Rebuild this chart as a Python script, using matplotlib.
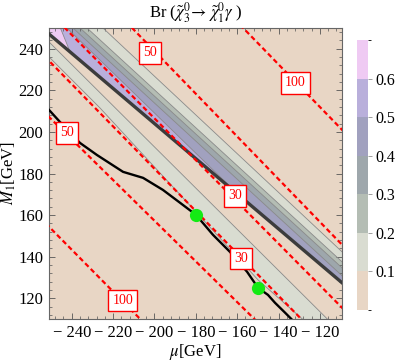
import numpy as np
import matplotlib
matplotlib.use("Agg")
import matplotlib.pyplot as plt
from matplotlib.colors import ListedColormap, BoundaryNorm
from matplotlib.ticker import MultipleLocator, FuncFormatter
import matplotlib.colorbar as mcolorbar

plt.rcParams['font.family'] = ['Liberation Serif', 'DejaVu Serif']
plt.rcParams['mathtext.fontset'] = 'stix'

# Br levels / colours of the filled contours (bottom -> top of colour bar)
br_levels = [0.0, 0.1, 0.2, 0.3, 0.4, 0.5, 0.6, 0.7]
br_colors = ['#e8d6c5', '#d9dcd1', '#b4bdb4', '#9ea7ac', '#a1a1bf', '#b9afdb', '#efcaf3']

# sharp lower-left edge of the main band (Br jumps here)
edge_x = [-251.0, -109.25]
edge_y = [247.1, 127.4]

# upper contours of the main band, level -> (x, y); 0.5 and 0.6 end on the edge
main_levels = [0.1, 0.2, 0.3, 0.4, 0.5, 0.6]
main_x = [[-224.9, -109.25], [-232.6, -109.25], [-236.0, -109.25],
          [-239.4, -109.25], [-242.3, -158.6], [-245.5, -240.8]]
main_y = [[250.0, 142.3], [250.0, 137.5], [250.0, 134.6],
          [250.0, 130.8], [250.0, 169.1], [250.0, 238.5]]

# narrow 0.1-0.2 band lower-left of the main band
bandA_up_x = [-251.0, -116.0]
bandA_up_y = [243.3, 109.6]
bandA_lo_x = [-251.0, -226.3, -179.9, -149.9, -128.6]
bandA_lo_y = [236.1, 211.5, 161.5, 128.8, 110.1]

# red dashed contours (label value, end points)
red_vals = [100, 50, 30, 30, 50, 100]
red_x = [[-157.1, -109.25], [-210.8, -109.25], [-243.3, -109.25],
         [-250.5, -129.6], [-251.0, -152.3], [-249.5, -207.0]]
red_y = [[250.0, 201.0], [250.0, 145.7], [250.0, 115.4],
         [233.7, 110.6], [207.2, 110.6], [152.9, 110.1]]
lab_x = [-132.0, -202.1, -161.0, -158.1, -242.3, -215.4]
lab_y = [223.6, 238.0, 169.2, 139.0, 199.5, 119.0]

# black curve and the two benchmark points
curve_x = [-251.0, -245.7, -236.0, -227.8, -215.2, -205.5, -195.9, -187.6, -179.9,
           -171.7, -163.5, -155.2, -149.9, -145.1, -141.7, -136.8, -133.9]
curve_y = [210.6, 204.8, 194.7, 188.9, 180.8, 177.9, 172.1, 165.9, 160.1,
           150.5, 142.3, 132.7, 125.0, 121.6, 117.8, 113.0, 110.1]
pts_x = [-180.0, -150.0]
pts_y = [160.0, 125.0]

XMIN, XMAX, YMIN, YMAX = -251.0, -109.3, 110.0, 250.0


def extend(xs, ys, x0=-275.0, x1=-85.0, start=True, end=True):
    xs, ys = list(xs), list(ys)
    if start:
        s = (ys[1] - ys[0]) / (xs[1] - xs[0])
        xs.insert(0, x0); ys.insert(0, ys[0] + s * (x0 - xs[1]))
    if end:
        s = (ys[-1] - ys[-2]) / (xs[-1] - xs[-2])
        xs.append(x1); ys.append(ys[-1] + s * (x1 - xs[-2]))
    return np.array(xs), np.array(ys)


fig = plt.figure(figsize=(3.99, 3.63), dpi=100)
ax = fig.add_axes([49 / 399, 1 - 319 / 363, 293 / 399, 291 / 363])
ax.set_xlim(XMIN, XMAX)
ax.set_ylim(YMIN, YMAX)
ax.set_facecolor(br_colors[0])

ex, ey = extend(edge_x, edge_y)

# main band, layered from the widest (0.1) to the narrowest level
for i, lev in enumerate(main_levels):
    merges = lev >= 0.5
    ux, uy = extend(main_x[i], main_y[i], end=not merges)
    if merges:
        jy = np.interp(ux[0], ex, ey)
        px = np.concatenate([ux, [ux[0]]])
        py = np.concatenate([uy, [jy]])
    else:
        px = np.concatenate([ux, ex[::-1]])
        py = np.concatenate([uy, ey[::-1]])
    ax.fill(px, py, color=br_colors[i + 1], lw=0, zorder=1)
    ax.plot(ux, uy, color='#8a8a8a', lw=0.6, zorder=2)

# band A
ax_, ay_ = extend(bandA_up_x, bandA_up_y)
bx_, by_ = extend(bandA_lo_x, bandA_lo_y)
ax.fill(np.concatenate([ax_, bx_[::-1]]), np.concatenate([ay_, by_[::-1]]),
        color=br_colors[1], lw=0, zorder=1)
ax.plot(ax_, ay_, color='#8a8a8a', lw=0.6, zorder=2)
ax.plot(bx_, by_, color='#8a8a8a', lw=0.6, zorder=2)

# jagged edge
ax.plot(ex, ey, color='#3c3c3c', lw=2.4, zorder=3)

# red dashed mass-difference contours
for i in range(len(red_vals)):
    x0, x1 = red_x[i]
    y0, y1 = red_y[i]
    t = np.array([-0.2, 1.2])
    ax.plot(x0 + t * (x1 - x0), y0 + t * (y1 - y0), color='#ff0000', lw=1.6,
            linestyle=(0, (2.2, 1.4)), zorder=4)
    ax.text(lab_x[i], lab_y[i], str(red_vals[i]), color='#ff0000', fontsize=10,
            ha='center', va='center', zorder=7,
            bbox=dict(boxstyle='square,pad=0.3', fc='white', ec='#ff0000', lw=1.0))

ax.plot(curve_x, curve_y, color='black', lw=1.7, zorder=5)
ax.plot(pts_x, pts_y, 'o', color='#14ea14', ms=9.5, mec='none', zorder=6)

# axes styling (Mathematica-like frame)
ax.xaxis.set_major_locator(MultipleLocator(20))
ax.xaxis.set_minor_locator(MultipleLocator(4))
ax.yaxis.set_major_locator(MultipleLocator(20))
ax.yaxis.set_minor_locator(MultipleLocator(4))
ax.xaxis.set_major_formatter(FuncFormatter(lambda v, p: f"\u2212 {abs(int(v))}" if v < 0 else f"{int(v)}"))
ax.tick_params(which='both', direction='in', top=True, right=True, colors='#555555',
               labelcolor='black', labelsize=12)
ax.tick_params(which='major', length=4, width=0.6, pad=4)
ax.tick_params(which='minor', length=2, width=0.5)
for s in ax.spines.values():
    s.set_color('#666666')
    s.set_linewidth(0.8)
ax.set_xlabel(r'$\mu$[GeV]', fontsize=12, labelpad=1)
ax.set_ylabel(r'$M_1$[GeV]', fontsize=12, labelpad=0)
fig.text(196 / 399, 1 - 13 / 363, r'Br ($\tilde{\chi}_3^0\!\rightarrow\,\tilde{\chi}_1^0\gamma$ )',
         ha='center', va='center', fontsize=12)

# colour bar
cax = fig.add_axes([357 / 399, 1 - 310 / 363, 11 / 399, 270 / 363])
cmap = ListedColormap(br_colors)
norm = BoundaryNorm(br_levels, cmap.N)
cb = mcolorbar.ColorbarBase(cax, cmap=cmap, norm=norm, ticks=br_levels[1:-1])
cb.outline.set_visible(False)
cb.ax.tick_params(length=3, width=0.5, pad=2, colors='#777777', labelcolor='black', labelsize=11.5)
cb.ax.set_yticklabels([f"{v:.1f}" for v in br_levels[1:-1]])

fig.savefig('out.png', dpi=100)
